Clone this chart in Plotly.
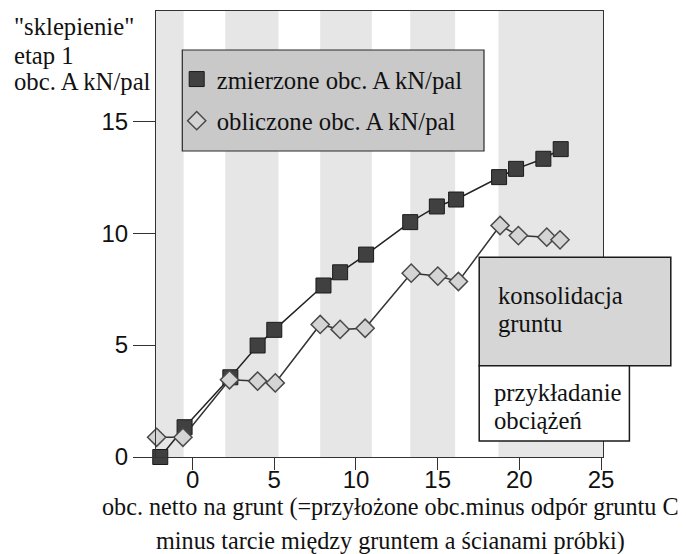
import plotly.graph_objects as go

# ---- data ----
x_measured = [-1.98, -0.49, 2.31, 3.98, 5.0, 8.01, 9.03, 10.62, 13.32, 14.95, 16.13, 18.76, 19.8, 21.47, 22.53]
y_measured = [0.0, 1.33, 3.56, 4.98, 5.68, 7.66, 8.25, 9.04, 10.49, 11.19, 11.5, 12.5, 12.87, 13.32, 13.75]
x_calculated = [-2.2, -0.59, 2.26, 3.98, 5.06, 7.81, 9.03, 10.56, 13.38, 15.01, 16.27, 18.82, 19.94, 21.68, 22.49]
y_calculated = [0.88, 0.88, 3.45, 3.39, 3.31, 5.92, 5.7, 5.75, 8.21, 8.08, 7.84, 10.34, 9.89, 9.82, 9.7]
consolidation_start = [-2.3, 2.0, 7.81, 13.32, 18.72]
consolidation_end = [-0.55, 5.26, 10.97, 16.07, 25.2]
x_ticks = [0, 5, 10, 15, 20, 25]
y_ticks = [0, 5, 10, 15]

name_measured = "zmierzone obc. A kN/pal"
name_calculated = "obliczone obc. A kN/pal"
y_title_lines = ['"sklepienie"', "etap 1", "obc. A kN/pal"]
x_title_lines = ["obc. netto na grunt (=przyłożone obc.minus odpór gruntu C",
                 "minus tarcie między gruntem a ścianami próbki)"]
box1_lines = ["konsolidacja", "gruntu"]
box2_lines = ["przykładanie", "obciążeń"]

# ---- geometry ----
W, H = 686, 554
PL, PR, PT, PB = 156, 603, 11, 457
SERIF = "Liberation Serif, Times New Roman, serif"
SANS = "Liberation Sans, Arial, sans-serif"
FS = 24.7


def px(xp):
    return (xp - PL) / (PR - PL)


def py(yp):
    return (PB - yp) / (PB - PT)


fig = go.Figure()

# line traces
fig.add_trace(go.Scatter(x=x_measured, y=y_measured, mode="lines",
                         line=dict(color="#222222", width=1.5),
                         showlegend=False, hoverinfo="skip", cliponaxis=False))
fig.add_trace(go.Scatter(x=x_calculated, y=y_calculated, mode="lines",
                         line=dict(color="#333333", width=1.5),
                         showlegend=False, hoverinfo="skip", cliponaxis=False))
# marker traces
fig.add_trace(go.Scatter(x=x_measured, y=y_measured, mode="markers", name=name_measured,
                         legendgroup="m",
                         marker=dict(symbol="square", size=15, color="#404040",
                                     line=dict(color="#1a1a1a", width=1)),
                         cliponaxis=False))
fig.add_trace(go.Scatter(x=x_calculated, y=y_calculated, mode="markers", name=name_calculated,
                         legendgroup="c",
                         marker=dict(symbol="diamond", size=14, color="#d4d4d4",
                                     line=dict(color="#4a4a4a", width=1.5)),
                         cliponaxis=False))

shapes = []
for s, e in zip(consolidation_start, consolidation_end):
    shapes.append(dict(type="rect", xref="x", yref="paper", x0=s, x1=e, y0=0, y1=1,
                       fillcolor="#e6e6e6", line=dict(width=0), layer="below"))
# legend box
shapes.append(dict(type="rect", xref="paper", yref="paper",
                   x0=px(182.3), x1=px(484), y0=py(151), y1=py(50),
                   fillcolor="#c9c9c9", line=dict(color="#2a2a2a", width=1.2), layer="above"))
# phase boxes
shapes.append(dict(type="rect", xref="paper", yref="paper",
                   x0=px(479.2), x1=px(670.8), y0=py(365.7), y1=py(257.3),
                   fillcolor="#d6d6d6", line=dict(color="#1a1a1a", width=1.5), layer="above"))
shapes.append(dict(type="rect", xref="paper", yref="paper",
                   x0=px(479.2), x1=px(629.4), y0=py(441), y1=py(365.7),
                   fillcolor="#ffffff", line=dict(color="#1a1a1a", width=1.5), layer="above"))

annotations = []


def add_text(text, xp, yp, anchor="left", size=FS):
    annotations.append(dict(text=text, xref="paper", yref="paper", x=px(xp), y=py(yp),
                            xanchor=anchor, yanchor="middle", showarrow=False,
                            font=dict(family=SERIF, size=size, color="#111111")))


for t, yb in zip(y_title_lines, [35, 63.3, 89.3]):
    add_text(t, 12, yb - 8)
for t, yb in zip(x_title_lines, [515, 548.5]):
    add_text(t, 390, yb - 8, anchor="center", size=24.2)
for t, yb in zip(box1_lines, [303.3, 331.7]):
    add_text(t, 496, yb - 8)
for t, yb in zip(box2_lines, [400, 428.3]):
    add_text(t, 492.3, yb - 8)

fig.update_layout(
    width=W, height=H,
    margin=dict(l=PL, r=W - PR, t=PT, b=H - PB, pad=0),
    plot_bgcolor="white", paper_bgcolor="white",
    shapes=shapes, annotations=annotations,
    showlegend=True,
    legend=dict(x=px(176.7), y=py(56.5), xanchor="left", yanchor="top",
                bgcolor="rgba(0,0,0,0)", borderwidth=0,
                font=dict(family=SERIF, size=FS, color="#111111"),
                traceorder="grouped", tracegroupgap=6.5),
    xaxis=dict(range=[-2.24, 25.12], tickvals=x_ticks, ticktext=[str(v) for v in x_ticks],
               ticks="outside", ticklen=12, tickwidth=1.2, tickcolor="#333333",
               ticklabelstandoff=-11,
               showline=True, linecolor="#333333", linewidth=1.2, mirror=True,
               showgrid=False, zeroline=False,
               tickfont=dict(family=SANS, size=24, color="#111111")),
    yaxis=dict(range=[0, 19.92], tickvals=y_ticks, ticktext=[str(v) for v in y_ticks],
               ticks="outside", ticklen=22, tickwidth=1.2, tickcolor="#333333",
               showline=True, linecolor="#333333", linewidth=1.2, mirror=True,
               showgrid=False, zeroline=False,
               tickfont=dict(family=SANS, size=24, color="#111111")),
)

fig.write_html("out.html", config={"displayModeBar": False},
               post_script="document.body.style.margin='0px';document.body.style.overflow='hidden';")
